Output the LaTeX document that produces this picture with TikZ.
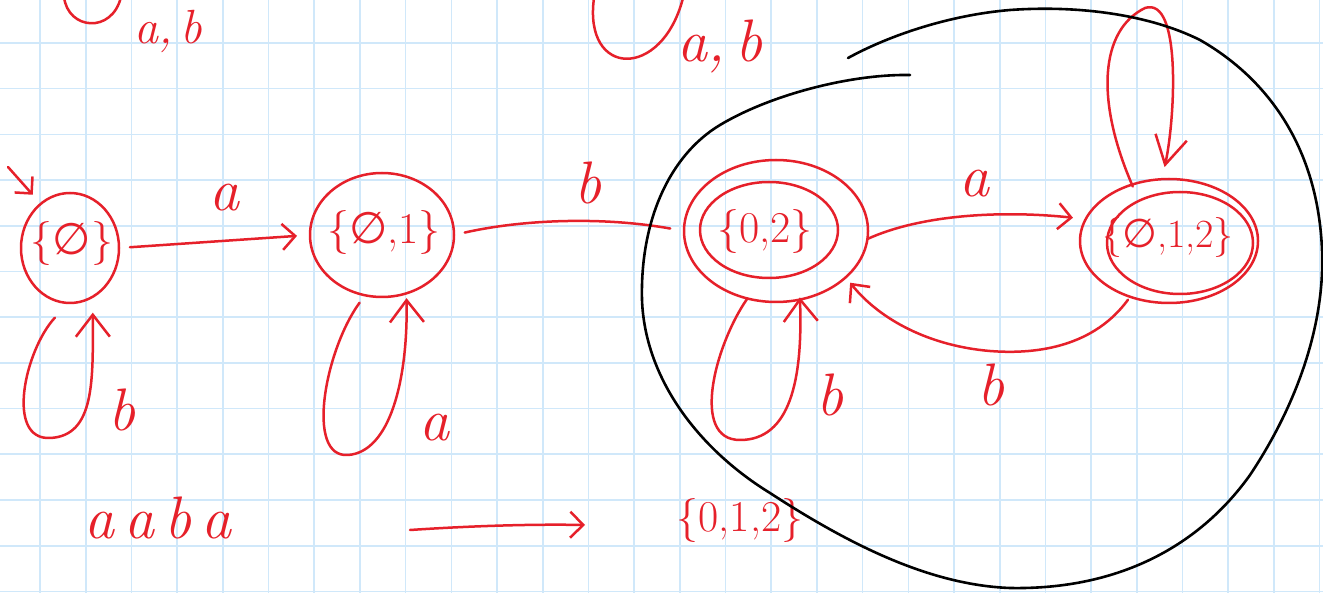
\documentclass[tikz,border=0pt]{standalone}
\usepackage{fontspec}
\newfontfamily\symf{DejaVu Sans}
\usetikzlibrary{shapes.geometric,arrows.meta,calc}
\definecolor{ink}{RGB}{230,32,42}
\definecolor{gridc}{RGB}{208,232,250}
\newcommand{\es}{{\symf\char"2205}}
\begin{document}
\begin{tikzpicture}[x=1pt,y=-1pt,
  pen/.style={draw=ink, line width=2.5pt, line cap=round, line join=round},
  blackpen/.style={draw=black, line width=2.6pt, line cap=round, line join=round},
  gridline/.style={draw=gridc, line width=1.6pt},
  state/.style={ellipse, pen, inner sep=0pt, outer sep=0pt},
  slabel/.style={text=ink, font=\fontsize{44}{50}\selectfont, inner sep=0pt},
  tlabel/.style={text=ink, font=\fontsize{60}{66}\selectfont\itshape, inner sep=0pt},
  barb/.style={-{Straight Barb[length=13pt,width=26pt]}},
  bigbarb/.style={-{Straight Barb[length=22pt,width=34pt]}}]
\useasboundingbox (0,0) rectangle (1323,593);
\fill[white] (0,0) rectangle (1323,593);
\clip (0,0) rectangle (1323,593);
% grid
\foreach \i in {0,...,28} {\draw[gridline] ({40+45.7*\i},0) -- ({40+45.7*\i},593);}
\foreach \j in {0,...,12} {\draw[gridline] (0,{43+45.7*\j}) -- (1323,{43+45.7*\j});}

% states
\node[state, minimum width=98pt, minimum height=110pt] (q0) at (70,248) {};
\node[slabel] (t0) at (72,244) {\{\es\}};
\node[state, minimum width=144pt, minimum height=124pt] (q1) at (382,235) {};
\node[slabel] (t1) at (384,233) {\{\es,1\}};
\node[state, minimum width=184pt, minimum height=142pt] (q2) at (776,231) {};
\node[state, minimum width=138pt, minimum height=96pt] (q2i) at (769,230) {};
\node[slabel] (t2) at (765,232) {\{0,2\}};
\node[state, minimum width=178pt, minimum height=124pt] (q3) at (1169,241) {};
\node[state, minimum width=146pt, minimum height=102pt] (q3i) at (1180,243) {};
\node[slabel, font=\fontsize{40}{46}\selectfont] (t3) at (1168,238) {\{\es,1,2\}};

% initial arrow
\coordinate (init) at (8,167);
\draw[pen, -{Straight Barb[length=12pt,width=24pt]}] (init) -- ($(q0.125)+(-7,-10)$);

% q0 self loop (b)
\draw[pen, bigbarb] ($(q0.255)+(-1,17)$) .. controls (25,350) and (5,440) .. (50,438)
   .. controls (95,436) and (93,380) .. ($(q0.288)+(6,13)$);
\node[tlabel] (lb00) at (122,410) {b};

% q0 -> q1 (a)
\draw[pen, barb, shorten <=11pt, shorten >=13pt] (q0.east) -- (q1.west);
\node[tlabel] (la01) at (224,198) {a};

% q1 self loop (a)
\draw[pen, bigbarb] ($(q1.252)+(-3,8)$) .. controls (325,350) and (305,458) .. (348,455)
   .. controls (390,452) and (408,380) .. ($(q1.290)+(3,4)$);
\node[tlabel] (la11) at (434,428) {a};

% q1 -> q2 (b), drawn without head
\draw[pen, shorten <=11pt, shorten >=14pt] (q1.east) .. controls (520,220) and (600,216) .. (q2.west);
\node[tlabel] (lb12) at (588,183) {b};

% q2 self loop (b)
\draw[pen, bigbarb] (q2.247) .. controls (715,345) and (690,440) .. (740,440)
   .. controls (790,440) and (803,380) .. ($(q2.290)+(-1,-2)$);
\node[tlabel] (lb22) at (830,395) {b};

% q2 -> q3 (a)
\draw[pen, barb] (q2.355) .. controls (920,215) and (1000,210) .. ($(q3.165)+(-13,-1)$);
\node[tlabel] (la23) at (974,184) {a};

% q3 -> q2 (b)
\draw[pen, -{Straight Barb[length=14pt,width=26pt]}] ($(q3.235)+(-2,3)$) .. controls (1095,345) and (1040,355) .. (990,351)
   .. controls (930,346) and (880,320) .. ($(q2.325)+(6,4)$);
\node[tlabel] (lb32) at (991,385) {b};

% q3 self loop
\draw[pen, -{Straight Barb[length=28pt,width=32pt]}] ($(q3.120)+(-3,3)$) .. controls (1095,100) and (1100,30) .. (1145,8)
   .. controls (1182,-4) and (1175,120) .. ($(q3.95)+(1,-12)$);

% partial loops of states above the page
\draw[pen] (64,-3) .. controls (68,30) and (112,34) .. (121,-3);
\node[tlabel, font=\fontsize{48}{54}\selectfont\itshape] (lab1) at (168,31) {a,\,b};
\draw[pen] (594,-2) .. controls (583,78) and (662,80) .. (683,-2);
\node[tlabel] (lab2) at (720,46) {a,\,b};

% bottom example
\node[tlabel] (w) at (158,518) {a\,a\,b\,a};
\node[slabel] (r) at (740,520) {\{0,1,2\}};
\coordinate (arrS) at (410,530);
\coordinate (arrE) at (585,525);
\draw[pen, barb] (arrS) .. controls (470,526) and (530,524) .. (arrE);

% black enclosing curve
\draw[blackpen] (910,75) .. controls (850,74) and (770,95) .. (720,125)
  .. controls (670,155) and (640,220) .. (642,300)
  .. controls (645,380) and (700,450) .. (770,493)
  .. controls (850,545) and (930,585) .. (1010,588)
  .. controls (1120,590) and (1200,545) .. (1250,475)
  .. controls (1300,400) and (1325,320) .. (1322,250)
  .. controls (1318,150) and (1270,80) .. (1200,40)
  .. controls (1150,15) and (1080,5) .. (1010,10)
  .. controls (950,15) and (890,35) .. (848,58);
\end{tikzpicture}
\end{document}
